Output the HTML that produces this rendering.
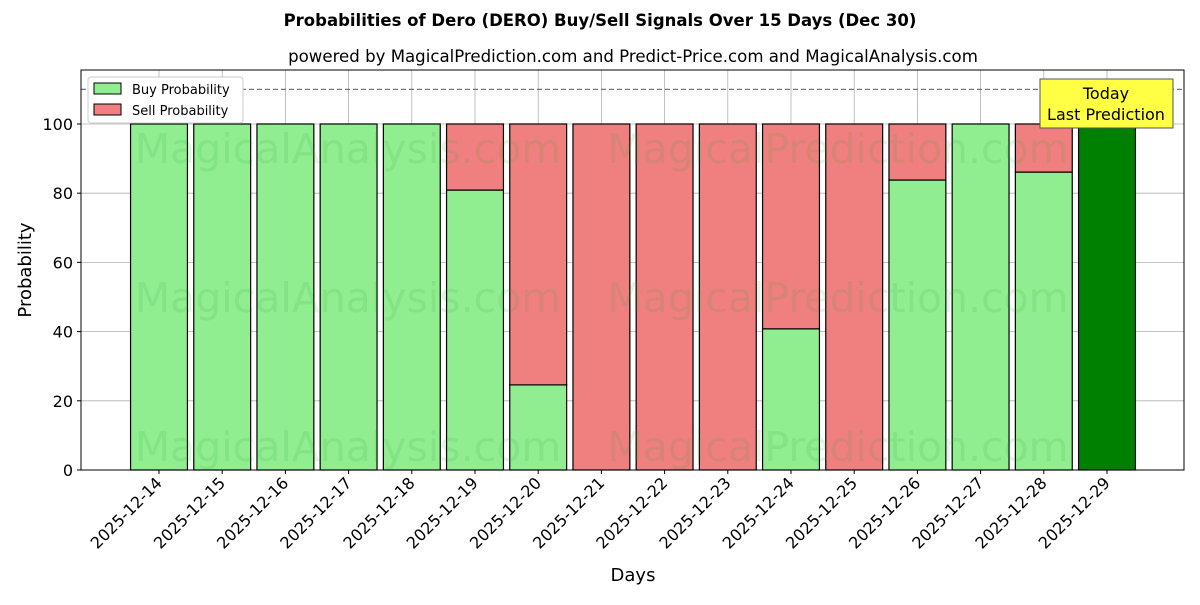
<!DOCTYPE html>
<html><head><meta charset="utf-8"><style>
body{margin:0;background:#fff;font-family:"Liberation Sans","DejaVu Sans",sans-serif;}
</style></head><body>
<svg id="chart" width="1200" height="600" xmlns="http://www.w3.org/2000/svg" font-family="DejaVu Sans, Liberation Sans, sans-serif">
<text x="600" y="26" text-anchor="middle" font-size="16.5" font-weight="bold">Probabilities of Dero (DERO) Buy/Sell Signals Over 15 Days (Dec 30)</text>
<text x="633" y="62" text-anchor="middle" font-size="16.6">powered by MagicalPrediction.com and Predict-Price.com and MagicalAnalysis.com</text>
<g id="grid"></g>
<g id="bars"></g>
<g id="wm" font-size="41" fill="#2ca02c" fill-opacity="0.13">
<text x="348" y="163" text-anchor="middle">MagicalAnalysis.com</text>
<text x="838" y="163" text-anchor="middle">MagicalPrediction.com</text>
<text x="348" y="312" text-anchor="middle">MagicalAnalysis.com</text>
<text x="838" y="312" text-anchor="middle">MagicalPrediction.com</text>
<text x="348" y="461" text-anchor="middle">MagicalAnalysis.com</text>
<text x="838" y="461" text-anchor="middle">MagicalPrediction.com</text>
</g>
<line x1="81" x2="1184" y1="89.4" y2="89.4" stroke="#777" stroke-width="1.3" stroke-dasharray="5,3"/>
<rect x="81" y="70" width="1103" height="400" fill="none" stroke="#000" stroke-width="1"/>
<g id="axes"></g>
<text transform="translate(31,270) rotate(-90)" text-anchor="middle" font-size="18">Probability</text>
<text x="633" y="581" text-anchor="middle" font-size="18">Days</text>
<g>
<rect x="88" y="77" width="155" height="46" fill="#fff" stroke="#ccc" rx="3"/>
<rect x="94" y="83" width="27" height="11" fill="#90ee90" stroke="#000"/>
<text x="132" y="94" font-size="13">Buy Probability</text>
<rect x="94" y="104" width="27" height="11" fill="#f08080" stroke="#000"/>
<text x="132" y="115" font-size="13">Sell Probability</text>
</g>
<g>
<rect x="1040" y="79" width="133" height="49" fill="#ffff44" stroke="#555"/>
<text x="1106" y="99" text-anchor="middle" font-size="16">Today</text>
<text x="1106" y="120" text-anchor="middle" font-size="16">Last Prediction</text>
</g>
</svg>
<script>
const categories=["2025-12-14","2025-12-15","2025-12-16","2025-12-17","2025-12-18","2025-12-19","2025-12-20","2025-12-21","2025-12-22","2025-12-23","2025-12-24","2025-12-25","2025-12-26","2025-12-27","2025-12-28","2025-12-29"];
const buyValues=[100,100,100,100,100,80.9,24.6,0,0,0,40.8,0,83.8,100,86.1,100];
const sellValues=[0,0,0,0,0,19.1,75.4,100,100,100,59.2,100,16.2,0,13.9,0];
const yTicks=[0,20,40,60,80,100];
const NS="http://www.w3.org/2000/svg";
const X0=81,X1=1184,Y0=470,Y1=70,ymin=0,ymax=115.6;
const step=63.2,first=159;
const xs=i=>first+i*step;
const ys=v=>Y0-(v-ymin)/(ymax-ymin)*(Y0-Y1);
const bw=0.9*step;
function mk(tag,a,p){const e=document.createElementNS(NS,tag);for(const k in a)e.setAttribute(k,a[k]);p.appendChild(e);return e;}
const grid=document.getElementById('grid'),bars=document.getElementById('bars'),axes=document.getElementById('axes');
yTicks.forEach(t=>{const y=ys(t);
const g=mk('line',{x1:X0,x2:X1,y1:y,y2:y,stroke:'#b0b0b0','stroke-width':0.8},grid);


mk('line',{x1:X0-4,x2:X0,y1:y,y2:y,stroke:'#000'},axes);
const l=mk('text',{x:X0-8,y:y+6,'text-anchor':'end','font-size':16},axes);l.textContent=t;

});
categories.forEach((c,i)=>{const x=xs(i);
const g=mk('line',{x1:x,x2:x,y1:Y1,y2:Y0,stroke:'#b0b0b0','stroke-width':0.8},grid);


const today=i===categories.length-1;
const b=mk('rect',{x:x-bw/2,y:ys(buyValues[i]),width:bw,height:ys(0)-ys(buyValues[i]),fill:today?'#008000':'#90ee90',stroke:'#000','stroke-width':1.2},bars);


if(sellValues[i]>0){const s=mk('rect',{x:x-bw/2,y:ys(buyValues[i]+sellValues[i]),width:bw,height:ys(buyValues[i])-ys(buyValues[i]+sellValues[i]),fill:'#f08080',stroke:'#000','stroke-width':1.2},bars);

}
mk('line',{x1:x,x2:x,y1:Y0,y2:Y0+4,stroke:'#000'},axes);
const l=mk('text',{x:x+4,y:Y0+14,'text-anchor':'end','font-size':16,transform:`rotate(-45 ${x+4} ${Y0+14})`},axes);l.textContent=c;

});
</script>
</body></html>
